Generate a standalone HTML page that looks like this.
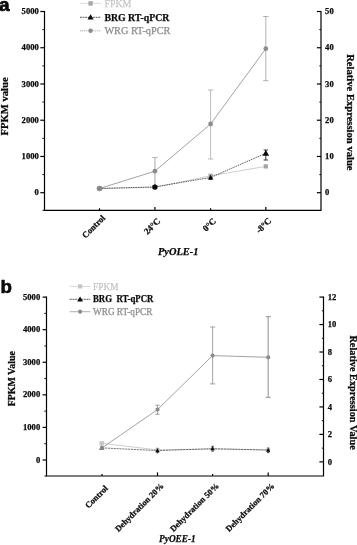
<!DOCTYPE html>
<html><head><meta charset="utf-8"><title>Figure</title>
<style>
html,body{margin:0;padding:0;background:#fff;}
body{width:357px;height:545px;overflow:hidden;font-family:"Liberation Serif",serif;}
svg{display:block;will-change:transform}
</style></head><body>
<svg width="357" height="545" viewBox="0 0 357 545">
<rect width="357" height="545" fill="#fff"/>
<g stroke="#000" stroke-width="1.2" fill="none">
<path d="M44.5 10.9V210.3H321V10.9"/>
<path d="M44.5 192.7h-4.2"/>
<path d="M44.5 174.58h-2.2" stroke-width="0.9"/>
<path d="M44.5 156.46h-4.2"/>
<path d="M44.5 138.34h-2.2" stroke-width="0.9"/>
<path d="M44.5 120.22h-4.2"/>
<path d="M44.5 102.1h-2.2" stroke-width="0.9"/>
<path d="M44.5 83.98h-4.2"/>
<path d="M44.5 65.86h-2.2" stroke-width="0.9"/>
<path d="M44.5 47.74h-4.2"/>
<path d="M44.5 29.62h-2.2" stroke-width="0.9"/>
<path d="M44.5 11.5h-4.2"/>
<path d="M321 192.7h-4.1"/>
<path d="M321 174.58h-1.7" stroke-width="0.9"/>
<path d="M321 156.46h-4.1"/>
<path d="M321 138.34h-1.7" stroke-width="0.9"/>
<path d="M321 120.22h-4.1"/>
<path d="M321 102.1h-1.7" stroke-width="0.9"/>
<path d="M321 83.98h-4.1"/>
<path d="M321 65.86h-1.7" stroke-width="0.9"/>
<path d="M321 47.74h-4.1"/>
<path d="M321 29.62h-1.7" stroke-width="0.9"/>
<path d="M321 11.5h-4.1"/>
<path d="M99.5 210.3v-2.0" stroke-width="1.2"/>
<path d="M154.9 210.3v-3.4" stroke-width="1.2"/>
<path d="M210.6 210.3v-2.0" stroke-width="1.2"/>
<path d="M265.8 210.3v-3.4" stroke-width="1.2"/>
<path d="M44.5 210.3h-2" stroke-width="1"/>
</g>
<text x="38.8" y="195.25" font-family='"Liberation Serif", serif' font-size="8.6" font-weight="bold" fill="#0a0a0a" text-anchor="end" stroke="#0a0a0a" stroke-width="0.25" stroke-linejoin="round">0</text>
<text x="38.8" y="159.01" font-family='"Liberation Serif", serif' font-size="8.6" font-weight="bold" fill="#0a0a0a" text-anchor="end" stroke="#0a0a0a" stroke-width="0.25" stroke-linejoin="round">1000</text>
<text x="38.8" y="122.77" font-family='"Liberation Serif", serif' font-size="8.6" font-weight="bold" fill="#0a0a0a" text-anchor="end" stroke="#0a0a0a" stroke-width="0.25" stroke-linejoin="round">2000</text>
<text x="38.8" y="86.53" font-family='"Liberation Serif", serif' font-size="8.6" font-weight="bold" fill="#0a0a0a" text-anchor="end" stroke="#0a0a0a" stroke-width="0.25" stroke-linejoin="round">3000</text>
<text x="38.8" y="50.29" font-family='"Liberation Serif", serif' font-size="8.6" font-weight="bold" fill="#0a0a0a" text-anchor="end" stroke="#0a0a0a" stroke-width="0.25" stroke-linejoin="round">4000</text>
<text x="38.8" y="14.05" font-family='"Liberation Serif", serif' font-size="8.6" font-weight="bold" fill="#0a0a0a" text-anchor="end" stroke="#0a0a0a" stroke-width="0.25" stroke-linejoin="round">5000</text>
<text x="325.1" y="195.25" font-family='"Liberation Serif", serif' font-size="8.6" font-weight="bold" fill="#0a0a0a" text-anchor="start" stroke="#0a0a0a" stroke-width="0.25" stroke-linejoin="round">0</text>
<text x="325.1" y="159.01" font-family='"Liberation Serif", serif' font-size="8.6" font-weight="bold" fill="#0a0a0a" text-anchor="start" stroke="#0a0a0a" stroke-width="0.25" stroke-linejoin="round">10</text>
<text x="325.1" y="122.77" font-family='"Liberation Serif", serif' font-size="8.6" font-weight="bold" fill="#0a0a0a" text-anchor="start" stroke="#0a0a0a" stroke-width="0.25" stroke-linejoin="round">20</text>
<text x="325.1" y="86.53" font-family='"Liberation Serif", serif' font-size="8.6" font-weight="bold" fill="#0a0a0a" text-anchor="start" stroke="#0a0a0a" stroke-width="0.25" stroke-linejoin="round">30</text>
<text x="325.1" y="50.29" font-family='"Liberation Serif", serif' font-size="8.6" font-weight="bold" fill="#0a0a0a" text-anchor="start" stroke="#0a0a0a" stroke-width="0.25" stroke-linejoin="round">40</text>
<text x="325.1" y="14.05" font-family='"Liberation Serif", serif' font-size="8.6" font-weight="bold" fill="#0a0a0a" text-anchor="start" stroke="#0a0a0a" stroke-width="0.25" stroke-linejoin="round">50</text>
<path d="M99.5 188.5 L154.9 187.3 L210.6 175.8 L265.8 166.4" stroke="#c2c2c2" stroke-width="0.8" fill="none"/>
<path d="M99.5 188.5 L154.9 171.2 L210.6 124 L265.8 48.7" stroke="#8c8c8c" stroke-width="0.8" fill="none"/>
<path d="M154.9 157.5V185.5M152.2 157.5h5.4M152.2 185.5h5.4" stroke="#b4b4b4" stroke-width="1.2" fill="none"/>
<path d="M210.6 90V159M207.9 90h5.4M207.9 159h5.4" stroke="#a8a8a8" stroke-width="0.8" fill="none"/>
<path d="M265.8 16.5V80.7M263.1 16.5h5.4M263.1 80.7h5.4" stroke="#9e9e9e" stroke-width="0.8" fill="none"/>
<path d="M265.8 150V160M263.6 150h4.4M263.6 160h4.4" stroke="#0a0a0a" stroke-width="0.8" fill="none"/>
<path d="M210.6 175.5V179.5M209 175.5h3.2M209 179.5h3.2" stroke="#0a0a0a" stroke-width="0.7" fill="none"/>
<path d="M99.5 188.5 L154.9 186.9 L210.6 177.5 L265.8 153.3" stroke="#111" stroke-width="0.65" fill="none" stroke-dasharray="1.6 0.8"/>
<rect x="152.8" y="185.2" width="4.2" height="4.2" fill="#a4a4a4"/>
<rect x="208.5" y="173.7" width="4.2" height="4.2" fill="#a4a4a4"/>
<rect x="263.7" y="164.3" width="4.2" height="4.2" fill="#a4a4a4"/>
<circle cx="99.5" cy="188.5" r="2.4" fill="#8c8c8c"/>
<circle cx="154.9" cy="171.2" r="2.4" fill="#8c8c8c"/>
<circle cx="210.6" cy="124" r="2.4" fill="#8c8c8c"/>
<circle cx="265.8" cy="48.7" r="2.4" fill="#8c8c8c"/>
<circle cx="154.9" cy="187.1" r="2.6" fill="#0a0a0a"/>
<path d="M154.9 184.07L157.43 188.47H152.37Z" fill="#0a0a0a"/>
<path d="M210.6 174.74L213.36 179.54H207.84Z" fill="#0a0a0a"/>
<path d="M265.8 149.97L269.13 155.77H262.47Z" fill="#0a0a0a"/>
<circle cx="99.5" cy="188.5" r="2.8" fill="#8a8a8a"/>
<path d="M80 3.4 L101 3.4" stroke="#cfcfcf" stroke-width="0.7" fill="none"/>
<rect x="88.4" y="1.2" width="4.4" height="4.4" fill="#a8a8a8"/>
<text x="104.4" y="6.9" font-family='"Liberation Serif", serif' font-size="10.2" font-weight="normal" fill="#c8c8c8" text-anchor="start" stroke="#c8c8c8" stroke-width="0.25" stroke-linejoin="round" textLength="27" lengthAdjust="spacingAndGlyphs">FPKM</text>
<path d="M80 17.3 L101 17.3" stroke="#0a0a0a" stroke-width="0.7" fill="none" stroke-dasharray="1.8 0.8"/>
<path d="M90.6 14.2L93.7 19.59H87.49Z" fill="#0a0a0a"/>
<text x="104.4" y="21.4" font-family='"Liberation Serif", serif' font-size="10.2" font-weight="bold" fill="#0a0a0a" text-anchor="start" stroke="#0a0a0a" stroke-width="0.25" stroke-linejoin="round" textLength="65" lengthAdjust="spacingAndGlyphs">BRG RT-qPCR</text>
<path d="M80 30.8 L101 30.8" stroke="#8c8c8c" stroke-width="0.7" fill="none" stroke-dasharray="1.2 0.7"/>
<circle cx="90.6" cy="30.8" r="2.2" fill="#8c8c8c"/>
<text x="104.4" y="33.9" font-family='"Liberation Serif", serif' font-size="10.2" font-weight="normal" fill="#8c8c8c" text-anchor="start" stroke="#8c8c8c" stroke-width="0.25" stroke-linejoin="round" textLength="66" lengthAdjust="spacingAndGlyphs">WRG RT-qPCR</text>
<text transform="translate(105.7 218.5) rotate(-45)" font-family='"Liberation Serif", serif' font-size="8.6" font-weight="bold" fill="#0a0a0a" text-anchor="end" stroke="#0a0a0a" stroke-width="0.25" stroke-linejoin="round">Control</text>
<text transform="translate(160.9 221.6) rotate(-45)" font-family='"Liberation Serif", serif' font-size="9" font-weight="bold" fill="#0a0a0a" text-anchor="end" stroke="#0a0a0a" stroke-width="0.25" stroke-linejoin="round">24°C</text>
<text transform="translate(216.6 221.6) rotate(-45)" font-family='"Liberation Serif", serif' font-size="9" font-weight="bold" fill="#0a0a0a" text-anchor="end" stroke="#0a0a0a" stroke-width="0.25" stroke-linejoin="round">0°C</text>
<text transform="translate(271.8 221.3) rotate(-45)" font-family='"Liberation Serif", serif' font-size="9" font-weight="bold" fill="#0a0a0a" text-anchor="end" stroke="#0a0a0a" stroke-width="0.25" stroke-linejoin="round">-8°C</text>
<text transform="translate(8.3 106.4) rotate(-90)" font-family='"Liberation Serif", serif' font-size="9.4" font-weight="bold" fill="#0a0a0a" text-anchor="middle" stroke="#0a0a0a" stroke-width="0.25" stroke-linejoin="round" textLength="58" lengthAdjust="spacingAndGlyphs">FPKM value</text>
<text transform="translate(347.3 112.35) rotate(90)" font-family='"Liberation Serif", serif' font-size="9.8" font-weight="bold" fill="#0a0a0a" text-anchor="middle" stroke="#0a0a0a" stroke-width="0.25" stroke-linejoin="round" textLength="116.4" lengthAdjust="spacingAndGlyphs">Relative Expression value</text>
<text x="178.2" y="254.6" font-family='"Liberation Serif", serif' font-size="10.3" font-weight="bold" fill="#0a0a0a" text-anchor="middle" stroke="#0a0a0a" stroke-width="0.25" stroke-linejoin="round" font-style="italic" textLength="40.4" lengthAdjust="spacingAndGlyphs">PyOLE-1</text>
<text x="-1" y="10.6" font-family='"Liberation Sans", sans-serif' font-size="19.0" font-weight="bold" fill="#0a0a0a" text-anchor="start" stroke="#0a0a0a" stroke-width="0.7" stroke-linejoin="round">a</text>
<g stroke="#000" stroke-width="1.2" fill="none">
<path d="M46.5 296.5V476H323.5V296.5"/>
<path d="M46.5 460h-3.9"/>
<path d="M46.5 443.71h-2.2" stroke-width="0.9"/>
<path d="M46.5 427.42h-3.9"/>
<path d="M46.5 411.13h-2.2" stroke-width="0.9"/>
<path d="M46.5 394.84h-3.9"/>
<path d="M46.5 378.55h-2.2" stroke-width="0.9"/>
<path d="M46.5 362.26h-3.9"/>
<path d="M46.5 345.97h-2.2" stroke-width="0.9"/>
<path d="M46.5 329.68h-3.9"/>
<path d="M46.5 313.39h-2.2" stroke-width="0.9"/>
<path d="M46.5 297.1h-3.9"/>
<path d="M323.5 461.85h-4.1"/>
<path d="M323.5 448.12h-1.7" stroke-width="0.9"/>
<path d="M323.5 434.39h-4.1"/>
<path d="M323.5 420.66h-1.7" stroke-width="0.9"/>
<path d="M323.5 406.93h-4.1"/>
<path d="M323.5 393.2h-1.7" stroke-width="0.9"/>
<path d="M323.5 379.47h-4.1"/>
<path d="M323.5 365.74h-1.7" stroke-width="0.9"/>
<path d="M323.5 352.01h-4.1"/>
<path d="M323.5 338.28h-1.7" stroke-width="0.9"/>
<path d="M323.5 324.55h-4.1"/>
<path d="M323.5 310.82h-1.7" stroke-width="0.9"/>
<path d="M323.5 297.09h-4.1"/>
<path d="M102 476v-2.0" stroke-width="1.2"/>
<path d="M157.5 476v-3.6" stroke-width="1.2"/>
<path d="M212.6 476v-2.0" stroke-width="1.2"/>
<path d="M268.2 476v-3.6" stroke-width="1.2"/>
<path d="M46.5 476h-2" stroke-width="1"/>
</g>
<text x="40.2" y="462.65" font-family='"Liberation Serif", serif' font-size="8.6" font-weight="bold" fill="#0a0a0a" text-anchor="end" stroke="#0a0a0a" stroke-width="0.25" stroke-linejoin="round">0</text>
<text x="40.2" y="430.07" font-family='"Liberation Serif", serif' font-size="8.6" font-weight="bold" fill="#0a0a0a" text-anchor="end" stroke="#0a0a0a" stroke-width="0.25" stroke-linejoin="round">1000</text>
<text x="40.2" y="397.49" font-family='"Liberation Serif", serif' font-size="8.6" font-weight="bold" fill="#0a0a0a" text-anchor="end" stroke="#0a0a0a" stroke-width="0.25" stroke-linejoin="round">2000</text>
<text x="40.2" y="364.91" font-family='"Liberation Serif", serif' font-size="8.6" font-weight="bold" fill="#0a0a0a" text-anchor="end" stroke="#0a0a0a" stroke-width="0.25" stroke-linejoin="round">3000</text>
<text x="40.2" y="332.33" font-family='"Liberation Serif", serif' font-size="8.6" font-weight="bold" fill="#0a0a0a" text-anchor="end" stroke="#0a0a0a" stroke-width="0.25" stroke-linejoin="round">4000</text>
<text x="40.2" y="299.75" font-family='"Liberation Serif", serif' font-size="8.6" font-weight="bold" fill="#0a0a0a" text-anchor="end" stroke="#0a0a0a" stroke-width="0.25" stroke-linejoin="round">5000</text>
<text x="327.7" y="464.5" font-family='"Liberation Serif", serif' font-size="8.6" font-weight="bold" fill="#0a0a0a" text-anchor="start" stroke="#0a0a0a" stroke-width="0.25" stroke-linejoin="round">0</text>
<text x="327.7" y="437.04" font-family='"Liberation Serif", serif' font-size="8.6" font-weight="bold" fill="#0a0a0a" text-anchor="start" stroke="#0a0a0a" stroke-width="0.25" stroke-linejoin="round">2</text>
<text x="327.7" y="409.58" font-family='"Liberation Serif", serif' font-size="8.6" font-weight="bold" fill="#0a0a0a" text-anchor="start" stroke="#0a0a0a" stroke-width="0.25" stroke-linejoin="round">4</text>
<text x="327.7" y="382.12" font-family='"Liberation Serif", serif' font-size="8.6" font-weight="bold" fill="#0a0a0a" text-anchor="start" stroke="#0a0a0a" stroke-width="0.25" stroke-linejoin="round">6</text>
<text x="327.7" y="354.66" font-family='"Liberation Serif", serif' font-size="8.6" font-weight="bold" fill="#0a0a0a" text-anchor="start" stroke="#0a0a0a" stroke-width="0.25" stroke-linejoin="round">8</text>
<text x="327.7" y="327.2" font-family='"Liberation Serif", serif' font-size="8.6" font-weight="bold" fill="#0a0a0a" text-anchor="start" stroke="#0a0a0a" stroke-width="0.25" stroke-linejoin="round">10</text>
<text x="327.7" y="299.74" font-family='"Liberation Serif", serif' font-size="8.6" font-weight="bold" fill="#0a0a0a" text-anchor="start" stroke="#0a0a0a" stroke-width="0.25" stroke-linejoin="round">12</text>
<path d="M102 443.3 L157.5 449.9 L212.6 449 L268.2 449.8" stroke="#c2c2c2" stroke-width="0.8" fill="none"/>
<path d="M102 447.9 L157.5 409.6 L212.6 355.6 L268.2 357.3" stroke="#8c8c8c" stroke-width="0.8" fill="none"/>
<path d="M157.5 405.2V414.3M155.3 405.2h4.4M155.3 414.3h4.4" stroke="#8c8c8c" stroke-width="0.8" fill="none"/>
<path d="M212.6 327V383.9M210 327h5.2M210 383.9h5.2" stroke="#8c8c8c" stroke-width="0.8" fill="none"/>
<path d="M268.2 316.6V397.4M265.6 316.6h5.2M265.6 397.4h5.2" stroke="#a8a8a8" stroke-width="1.3" fill="none"/>
<path d="M212.6 446.3V451.2M211.4 446.3h2.4M211.4 451.2h2.4" stroke="#0a0a0a" stroke-width="0.7" fill="none"/>
<path d="M268.2 448V452.6M267 448h2.4M267 452.6h2.4" stroke="#0a0a0a" stroke-width="0.7" fill="none"/>
<path d="M157.5 448.3V452.8M156.3 448.3h2.4M156.3 452.8h2.4" stroke="#0a0a0a" stroke-width="0.7" fill="none"/>
<path d="M102 447.9 L157.5 450.6 L212.6 448.7 L268.2 450.1" stroke="#222" stroke-width="0.6" fill="none" stroke-dasharray="2.2 0.7"/>
<rect x="99.5" y="441.1" width="4.4" height="4.4" fill="#c6c6c6"/>
<rect x="155.8" y="448.2" width="3.4" height="3.4" fill="#a4a4a4"/>
<rect x="210.9" y="447.3" width="3.4" height="3.4" fill="#a4a4a4"/>
<rect x="266.5" y="448.1" width="3.4" height="3.4" fill="#a4a4a4"/>
<circle cx="102" cy="447.9" r="2.1" fill="#8c8c8c"/>
<circle cx="157.5" cy="409.6" r="2.1" fill="#8c8c8c"/>
<circle cx="212.6" cy="355.6" r="2.1" fill="#8c8c8c"/>
<circle cx="268.2" cy="357.3" r="2.1" fill="#8c8c8c"/>
<path d="M157.5 448.42L159.69 452.22H155.31Z" fill="#0a0a0a"/>
<path d="M212.6 446.51L214.78 450.31H210.41Z" fill="#0a0a0a"/>
<path d="M268.2 447.92L270.38 451.72H266.01Z" fill="#0a0a0a"/>
<path d="M101.7 445.02L104.58 450.02H98.83Z" fill="#858585"/>
<path d="M69.7 286.4 L90.4 286.4" stroke="#c6c6c6" stroke-width="0.7" fill="none"/>
<rect x="78" y="284.3" width="4.2" height="4.2" fill="#c6c6c6"/>
<text x="93" y="289.7" font-family='"Liberation Serif", serif' font-size="9.7" font-weight="normal" fill="#c6c6c6" text-anchor="start" stroke="#c6c6c6" stroke-width="0.25" stroke-linejoin="round" textLength="25.5" lengthAdjust="spacingAndGlyphs">FPKM</text>
<path d="M69.7 299.3 L90.4 299.3" stroke="#0a0a0a" stroke-width="0.7" fill="none" stroke-dasharray="2 0.8"/>
<path d="M80.1 296.43L82.97 301.43H77.22Z" fill="#0a0a0a"/>
<text x="93" y="302.4" font-family='"Liberation Serif", serif' font-size="9.7" font-weight="bold" fill="#0a0a0a" text-anchor="start" stroke="#0a0a0a" stroke-width="0.25" stroke-linejoin="round" textLength="60.4" lengthAdjust="spacingAndGlyphs">BRG&#160; RT-qPCR</text>
<path d="M69.7 311.7 L90.4 311.7" stroke="#8c8c8c" stroke-width="0.7" fill="none"/>
<circle cx="80.1" cy="311.7" r="2.1" fill="#8c8c8c"/>
<text x="93" y="314.6" font-family='"Liberation Serif", serif' font-size="9.7" font-weight="normal" fill="#8c8c8c" text-anchor="start" stroke="#8c8c8c" stroke-width="0.25" stroke-linejoin="round" textLength="59.4" lengthAdjust="spacingAndGlyphs">WRG RT-qPCR</text>
<text transform="translate(108.4 488.9) rotate(-45)" font-family='"Liberation Serif", serif' font-size="8.5" font-weight="bold" fill="#0a0a0a" text-anchor="end" stroke="#0a0a0a" stroke-width="0.25" stroke-linejoin="round">Control</text>
<text transform="translate(164.3 486.4) rotate(-45)" font-family='"Liberation Serif", serif' font-size="8.5" font-weight="bold" fill="#0a0a0a" text-anchor="end" stroke="#0a0a0a" stroke-width="0.25" stroke-linejoin="round">Dehydration 20%</text>
<text transform="translate(219.4 486.4) rotate(-45)" font-family='"Liberation Serif", serif' font-size="8.5" font-weight="bold" fill="#0a0a0a" text-anchor="end" stroke="#0a0a0a" stroke-width="0.25" stroke-linejoin="round">Dehydration 50%</text>
<text transform="translate(275 486.4) rotate(-45)" font-family='"Liberation Serif", serif' font-size="8.5" font-weight="bold" fill="#0a0a0a" text-anchor="end" stroke="#0a0a0a" stroke-width="0.25" stroke-linejoin="round">Dehydration 70%</text>
<text transform="translate(15 378.7) rotate(-90)" font-family='"Liberation Serif", serif' font-size="9.4" font-weight="bold" fill="#0a0a0a" text-anchor="middle" stroke="#0a0a0a" stroke-width="0.25" stroke-linejoin="round" textLength="55.2" lengthAdjust="spacingAndGlyphs">FPKM Value</text>
<text transform="translate(349.9 392.6) rotate(90)" font-family='"Liberation Serif", serif' font-size="10.2" font-weight="bold" fill="#0a0a0a" text-anchor="middle" stroke="#0a0a0a" stroke-width="0.25" stroke-linejoin="round" textLength="114.4" lengthAdjust="spacingAndGlyphs">Relative Expression Value</text>
<text x="177.4" y="542.3" font-family='"Liberation Serif", serif' font-size="9.9" font-weight="bold" fill="#0a0a0a" text-anchor="middle" stroke="#0a0a0a" stroke-width="0.25" stroke-linejoin="round" font-style="italic" textLength="36.6" lengthAdjust="spacingAndGlyphs">PyOEE-1</text>
<text x="0.4" y="293" font-family='"Liberation Sans", sans-serif' font-size="18.7" font-weight="bold" fill="#0a0a0a" text-anchor="start" stroke="#0a0a0a" stroke-width="0.6" stroke-linejoin="round">b</text>
</svg>
</body></html>
